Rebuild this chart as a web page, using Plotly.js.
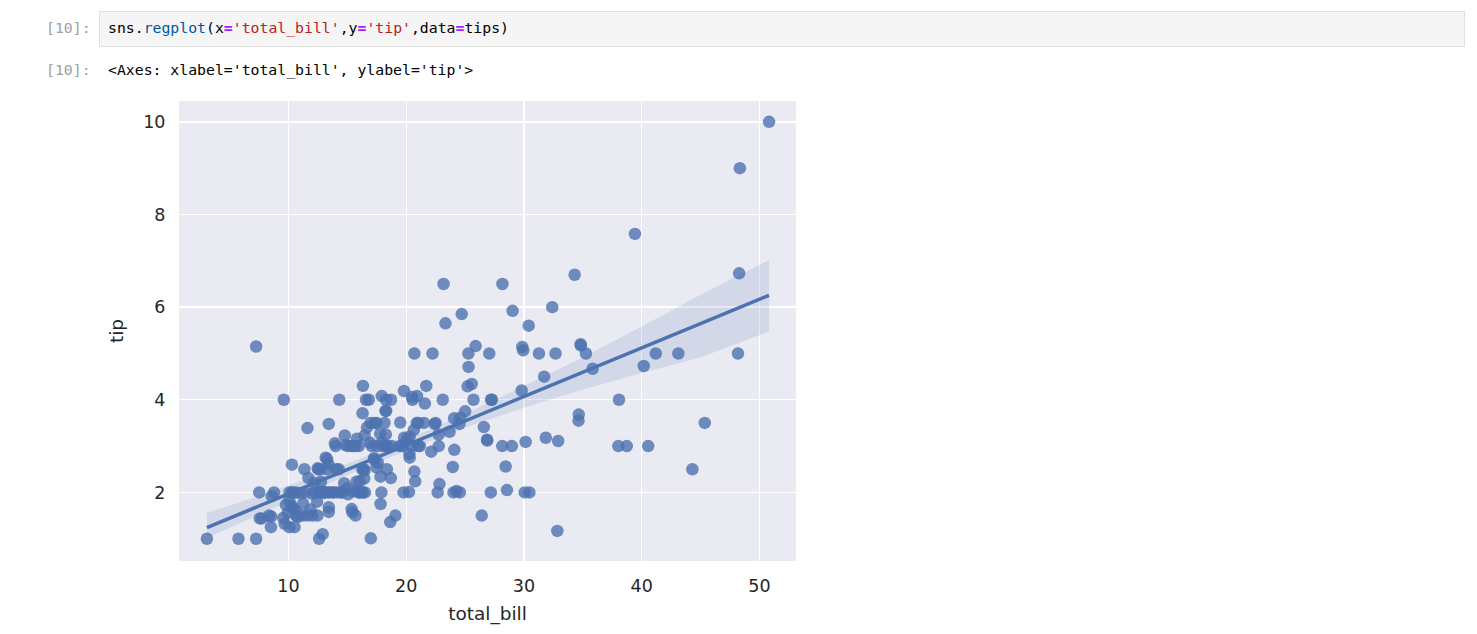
<!DOCTYPE html>
<html>
<head>
<meta charset="utf-8">
<script src="https://cdn.plot.ly/plotly-3.0.1.min.js"></script>
<style>
  body { margin: 0; background: #fff; width: 1477px; height: 634px; overflow: hidden; position: relative; }
  .mono { font-family: 'DejaVu Sans Mono', monospace; font-size: 14.8px; white-space: pre; position: absolute; }
  .prompt { color: #a0a0a0; left: 46px; }
  #cell { position: absolute; left: 99px; top: 11px; width: 1364px; height: 34px; background: #f5f5f5; border: 1px solid #e0e0e0; }
  .s { color: #ba2121; }
  .o { color: #aa22ff; font-weight: bold; }
  .f { color: #0055aa; }
  #chart { position: absolute; left: 0; top: 80px; width: 850px; height: 554px; }
</style>
</head>
<body>
<div class="mono prompt" style="top:19px">[10]:</div>
<div id="cell"></div>
<div class="mono" style="left:108px; top:19px">sns.<span class="f">regplot</span>(x<span class="o">=</span><span class="s">'total_bill'</span>,y<span class="o">=</span><span class="s">'tip'</span>,data<span class="o">=</span>tips)</div>
<div class="mono prompt" style="top:61px">[10]:</div>
<div class="mono" style="left:108px; top:61px; color:#000">&lt;Axes: xlabel='total_bill', ylabel='tip'&gt;</div>
<div id="chart"></div>
<script>
// tips dataset
const totalBill = [
  16.99, 10.34, 21.01, 23.68, 24.59, 25.29, 8.77, 26.88, 15.04, 14.78, 10.27, 35.26, 15.42, 18.43, 14.83, 21.58,
  10.33, 16.29, 16.97, 20.65, 17.92, 20.29, 15.77, 39.42, 19.82, 17.81, 13.37, 12.69, 21.7, 19.65, 9.55, 18.35,
  15.06, 20.69, 17.78, 24.06, 16.31, 16.93, 18.69, 31.27, 16.04, 17.46, 13.94, 9.68, 30.4, 18.29, 22.23, 32.4,
  28.55, 18.04, 12.54, 10.29, 34.81, 9.94, 25.56, 19.49, 38.01, 26.41, 11.24, 48.27, 20.29, 13.81, 11.02, 18.29,
  17.59, 20.08, 16.45, 3.07, 20.23, 15.01, 12.02, 17.07, 26.86, 25.28, 14.73, 10.51, 17.92, 27.2, 22.76, 17.29,
  19.44, 16.66, 10.07, 32.68, 15.98, 34.83, 13.03, 18.28, 24.71, 21.16, 28.97, 22.49, 5.75, 16.32, 22.75, 40.17,
  27.28, 12.03, 21.01, 12.46, 11.35, 15.38, 44.3, 22.42, 20.92, 15.36, 20.49, 25.21, 18.24, 14.31, 14.0, 7.25,
  38.07, 23.95, 25.71, 17.31, 29.93, 10.65, 12.43, 24.08, 11.69, 13.42, 14.26, 15.95, 12.48, 29.8, 8.52, 14.52,
  11.38, 22.82, 19.08, 20.27, 11.17, 12.26, 18.26, 8.51, 10.33, 14.15, 16.0, 13.16, 17.47, 34.3, 41.19, 27.05,
  16.43, 8.35, 18.64, 11.87, 9.78, 7.51, 14.07, 13.13, 17.26, 24.55, 19.77, 29.85, 48.17, 25.0, 13.39, 16.49,
  21.5, 12.66, 16.21, 13.81, 17.51, 24.52, 20.76, 31.71, 10.59, 10.63, 50.81, 15.81, 7.25, 31.85, 16.82, 32.9,
  17.89, 14.48, 9.6, 34.63, 34.65, 23.33, 45.35, 23.17, 40.55, 20.69, 20.9, 30.46, 18.15, 23.1, 15.69, 19.81,
  28.44, 15.48, 16.58, 7.56, 10.34, 43.11, 13.0, 13.51, 18.71, 12.74, 13.0, 16.4, 20.53, 16.47, 26.59, 38.73,
  24.27, 12.76, 30.06, 25.89, 48.33, 13.27, 28.17, 12.9, 28.15, 11.59, 7.74, 30.14, 12.16, 13.42, 8.58, 15.98,
  13.42, 16.27, 10.09, 20.45, 13.28, 22.12, 24.01, 15.69, 11.61, 10.77, 15.53, 10.07, 12.6, 32.83, 35.83, 29.03,
  27.18, 22.67, 17.82, 18.78,
]
const tip = [
  1.01, 1.66, 3.5, 3.31, 3.61, 4.71, 2.0, 3.12, 1.96, 3.23, 1.71, 5.0, 1.57, 3.0, 3.02, 3.92,
  1.67, 3.71, 3.5, 3.35, 4.08, 2.75, 2.23, 7.58, 3.18, 2.34, 2.0, 2.0, 4.3, 3.0, 1.45, 2.5,
  3.0, 2.45, 3.27, 3.6, 2.0, 3.07, 2.31, 5.0, 2.24, 2.54, 3.06, 1.32, 5.6, 3.0, 5.0, 6.0,
  2.05, 3.0, 2.5, 2.6, 5.2, 1.56, 4.34, 3.51, 3.0, 1.5, 1.76, 6.73, 3.21, 2.0, 1.98, 3.76,
  2.64, 3.15, 2.47, 1.0, 2.01, 2.09, 1.97, 3.0, 3.14, 5.0, 2.2, 1.25, 3.08, 4.0, 3.0, 2.71,
  3.0, 3.4, 1.83, 5.0, 2.03, 5.17, 2.0, 4.0, 5.85, 3.0, 3.0, 3.5, 1.0, 4.3, 3.25, 4.73,
  4.0, 1.5, 3.0, 1.5, 2.5, 3.0, 2.5, 3.48, 4.08, 1.64, 4.06, 4.29, 3.76, 4.0, 3.0, 1.0,
  4.0, 2.55, 4.0, 3.5, 5.07, 1.5, 1.8, 2.92, 2.31, 1.68, 2.5, 2.0, 2.52, 4.2, 1.48, 2.0,
  2.0, 2.18, 1.5, 2.83, 1.5, 2.0, 3.25, 1.25, 2.0, 2.0, 2.0, 2.75, 3.5, 6.7, 5.0, 5.0,
  2.3, 1.5, 1.36, 1.63, 1.73, 2.0, 2.5, 2.0, 2.74, 2.0, 2.0, 5.14, 5.0, 3.75, 2.61, 2.0,
  3.5, 2.5, 2.0, 2.0, 3.0, 3.48, 2.24, 4.5, 1.61, 2.0, 10.0, 3.16, 5.15, 3.18, 4.0, 3.11,
  2.0, 2.0, 4.0, 3.55, 3.68, 5.65, 3.5, 6.5, 3.0, 5.0, 3.5, 2.0, 3.5, 4.0, 1.5, 4.19,
  2.56, 2.02, 4.0, 1.44, 2.0, 5.0, 2.0, 2.0, 4.0, 2.01, 2.0, 2.5, 4.0, 3.23, 3.41, 3.0,
  2.03, 2.23, 2.0, 5.16, 9.0, 2.5, 6.5, 1.1, 3.0, 1.5, 1.44, 3.09, 2.2, 3.48, 1.92, 3.0,
  1.58, 2.5, 2.0, 3.0, 2.72, 2.88, 2.0, 3.0, 3.39, 1.47, 3.0, 1.25, 1.0, 1.17, 4.67, 5.92,
  2.0, 2.0, 1.75, 3.0,
]

// 95% confidence band
const bandX = [3.07, 7, 10, 15, 20, 25, 30, 35, 40, 45, 50.81]
const bandLow = [1.02, 1.46, 1.80, 2.37, 2.90, 3.40, 3.83, 4.22, 4.58, 4.92, 5.47]
const bandHigh = [1.56, 1.88, 2.15, 2.62, 3.14, 3.70, 4.30, 4.92, 5.58, 6.27, 7.02]

const xTicks = [10, 20, 30, 40, 50]
const yTicks = [2, 4, 6, 8, 10]

const blue = '#4C72B0'
const ink = '#262626'

// least squares fit, like regplot's line
const n = totalBill.length
const mx = totalBill.reduce((a, e) => a + e, 0) / n
const my = tip.reduce((a, e) => a + e, 0) / n
let sxy = 0
let sxx = 0
totalBill.forEach((x, i) => {
  sxy += (x - mx) * (tip[i] - my)
  sxx += (x - mx) * (x - mx)
})
const slope = sxy / sxx
const icpt = my - slope * mx
const fitX = [Math.min(...totalBill), Math.max(...totalBill)]
const fitY = fitX.map(x => icpt + slope * x)

const traces = [
  { x: totalBill, y: tip, type: 'scatter', mode: 'markers', marker: { color: blue, size: 12.5, opacity: 0.8, line: { width: 0 } }, hoverinfo: 'skip' },
  { x: bandX, y: bandLow, type: 'scatter', mode: 'lines', line: { width: 0 }, hoverinfo: 'skip' },
  { x: bandX, y: bandHigh, type: 'scatter', mode: 'lines', line: { width: 0 }, fill: 'tonexty', fillcolor: 'rgba(76,114,176,0.15)', hoverinfo: 'skip' },
  { x: fitX, y: fitY, type: 'scatter', mode: 'lines', line: { color: blue, width: 3.5 }, hoverinfo: 'skip' },
]

const axis = {
  showline: false,
  zeroline: false,
  gridcolor: '#ffffff',
  gridwidth: 1.4,
  ticks: 'outside',
  ticklen: 9,
  tickcolor: 'rgba(0,0,0,0)',
  tickfont: { family: 'DejaVu Sans', size: 17.5, color: ink },
}

Plotly.newPlot('chart', traces, {
  width: 850,
  height: 554,
  margin: { l: 179, r: 54, t: 21, b: 73 },
  paper_bgcolor: '#ffffff',
  plot_bgcolor: '#EAEAF2',
  showlegend: false,
  xaxis: { ...axis, range: [0.7, 53.1], tickvals: xTicks,
    title: { text: 'total_bill', standoff: 12, font: { family: 'DejaVu Sans', size: 18.5, color: ink } } },
  yaxis: { ...axis, range: [0.52, 10.45], tickvals: yTicks,
    title: { text: 'tip', standoff: 14, font: { family: 'DejaVu Sans', size: 18.5, color: ink } } },
}, { staticPlot: true })
</script>
</body>
</html>
